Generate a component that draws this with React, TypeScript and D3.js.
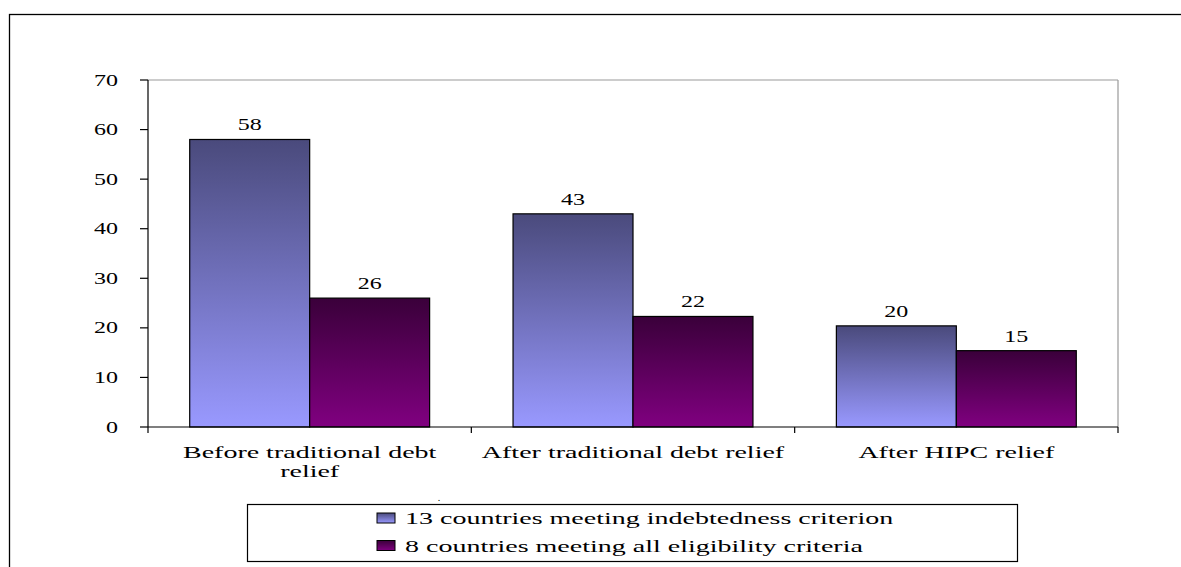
import React from "react";
import * as d3 from "d3";

const categories: string[][] = [
  ["Before traditional debt", "relief"],
  ["After traditional debt relief"],
  ["After HIPC relief"],
];
const seriesNames = [
  "13 countries meeting indebtedness criterion",
  "8 countries meeting all eligibility criteria",
];
const indebtedValues = [58, 43, 20.4];
const eligibleValues = [26, 22.3, 15.4];
const yTicks = [0, 10, 20, 30, 40, 50, 60, 70];

const W = 1181;
const H = 567;
const plot = { left: 148, right: 1118, top: 80, bottom: 427 };
const FONT = "'Liberation Serif', 'Times New Roman', serif";
const NUM_SX = 1.5;
const TXT_SX = 1.75;

const gradients = [
  { id: "g0", top: "#4a4a7c", bottom: "#9999ff" },
  { id: "g1", top: "#3a003a", bottom: "#800080" },
];

function SText({ x, y, sx, anchor, children, size = 16 }: any) {
  return (
    <g transform={`translate(${x},${y}) scale(${sx},1)`}>
      <text textAnchor={anchor} fontFamily={FONT} fontSize={size} fill="#000">
        {children}
      </text>
    </g>
  );
}

export default function App() {
  const keys = categories.map((c) => c.join(" "));
  const series = [indebtedValues, eligibleValues];
  const x0 = d3
    .scaleBand<string>()
    .domain(keys)
    .range([plot.left, plot.right])
    .paddingInner(0.258)
    .paddingOuter(0.129);
  const x1 = d3
    .scaleBand<number>()
    .domain([0, 1])
    .range([0, x0.bandwidth()])
    .padding(0);
  const y = d3.scaleLinear().domain([0, 70]).range([plot.bottom, plot.top]);
  const fmt = d3.format(".0f");
  const step = x0.step();
  const boundaries = d3.range(keys.length + 1).map((i) => plot.left + i * step);

  return (
    <svg
      width={W}
      height={H}
      style={{ position: "absolute", left: 0, top: 0, background: "#fff" }}
    >
      <defs>
        {gradients.map((g) => (
          <linearGradient key={g.id} id={g.id} x1="0" y1="0" x2="0" y2="1">
            <stop offset="0%" stopColor={g.top} />
            <stop offset="100%" stopColor={g.bottom} />
          </linearGradient>
        ))}
      </defs>
      <rect x={0} y={0} width={W} height={H} fill="#fff" />
      {/* outer frame */}
      <rect x={9.5} y={14.5} width={W + 20} height={H + 20} fill="none" stroke="#000" strokeWidth={1.3} />

      {/* plot area frame (top/right gray) */}
      <line x1={plot.left} x2={plot.right} y1={plot.top} y2={plot.top} stroke="#999" strokeWidth={1.2} />
      <line x1={plot.right} x2={plot.right} y1={plot.top} y2={plot.bottom} stroke="#999" strokeWidth={1.2} />

      {/* bars */}
      {keys.map((k, ci) =>
        series.map((vals, si) => {
          const v = vals[ci];
          const bx = (x0(k) as number) + (x1(si) as number);
          const bw = x1.bandwidth();
          return (
            <g key={`${k}-${si}`}>
              <rect
                x={bx}
                y={y(v)}
                width={bw}
                height={y(0) - y(v)}
                fill={`url(#${gradients[si].id})`}
                stroke="#000"
                strokeWidth={1.2}
              />
              <SText x={bx + bw / 2} y={y(v) - 9} sx={NUM_SX} anchor="middle">
                {fmt(v)}
              </SText>
            </g>
          );
        })
      )}

      {/* y axis */}
      <line x1={plot.left} x2={plot.left} y1={plot.top} y2={plot.bottom} stroke="#000" strokeWidth={1.2} />
      {yTicks.map((t) => (
        <g key={t}>
          <line x1={plot.left - 8} x2={plot.left} y1={y(t)} y2={y(t)} stroke="#000" strokeWidth={1.2} />
          <SText x={118} y={y(t) + 5.5} sx={NUM_SX} anchor="end">
            {t}
          </SText>
        </g>
      ))}

      {/* x axis */}
      <line x1={plot.left} x2={plot.right} y1={plot.bottom} y2={plot.bottom} stroke="#000" strokeWidth={1.2} />
      {boundaries.map((bx, i) => (
        <line key={i} x1={bx} x2={bx} y1={plot.bottom} y2={plot.bottom + 6} stroke="#000" strokeWidth={1.2} />
      ))}
      {categories.map((lines, ci) => {
        const cx = (x0(keys[ci]) as number) + x0.bandwidth() / 2;
        return lines.map((ln, li) => (
          <SText key={`${ci}-${li}`} x={cx} y={457.5 + li * 19.5} sx={TXT_SX} anchor="middle">
            {ln}
          </SText>
        ));
      })}

      {/* stray dot */}
      <SText x={439} y={501} sx={1} anchor="middle" size={10}>.</SText>

      {/* legend */}
      <rect x={247.5} y={504.5} width={770} height={57} fill="#fff" stroke="#000" strokeWidth={1.2} />
      {seriesNames.map((name, i) => (
        <g key={name}>
          <rect
            x={377}
            y={513 + i * 27.5}
            width={18}
            height={10}
            fill={`url(#${gradients[i].id})`}
            stroke="#000"
            strokeWidth={1}
          />
          <SText x={405} y={524 + i * 27.5} sx={TXT_SX} anchor="start">
            {name}
          </SText>
        </g>
      ))}
    </svg>
  );
}
